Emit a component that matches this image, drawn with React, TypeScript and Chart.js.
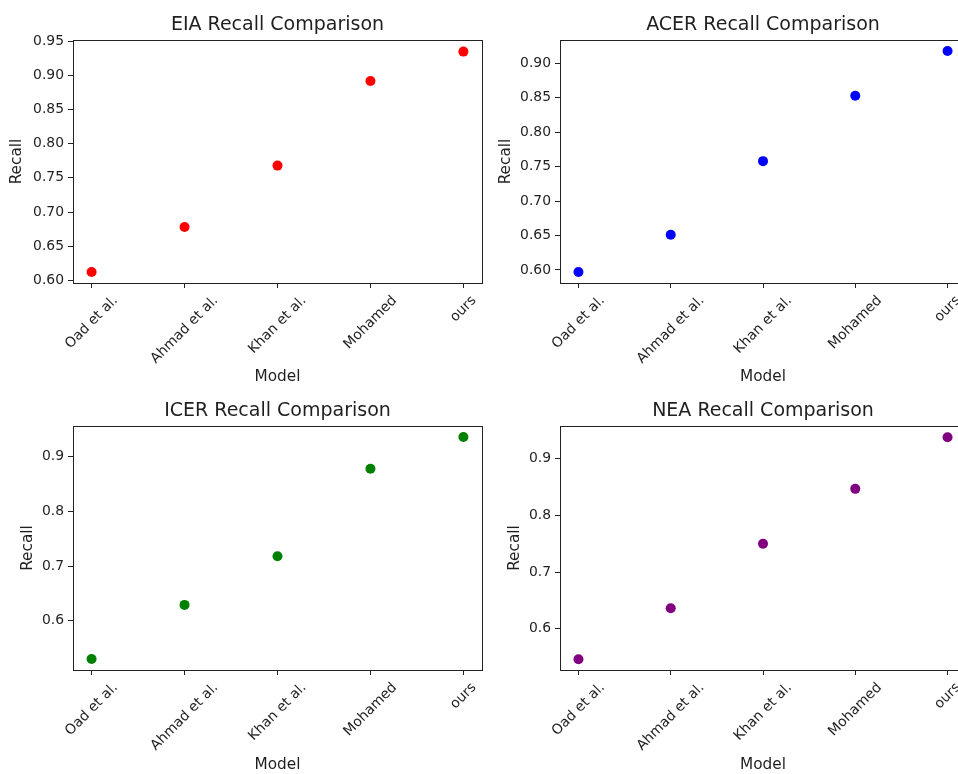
import React, { useEffect, useRef } from 'react';
import { Chart, registerables } from 'chart.js';

Chart.register(...registerables);

// ---------- data ----------
const categories = ['Oad et al.', 'Ahmad et al.', 'Khan et al.', 'Mohamed', 'ours'];

const eiaRecall = [0.612, 0.678, 0.768, 0.892, 0.935];
const acerRecall = [0.597, 0.651, 0.758, 0.853, 0.918];
const icerRecall = [0.530, 0.629, 0.718, 0.878, 0.936];
const neaRecall = [0.546, 0.636, 0.750, 0.847, 0.938];

const eiaTicks = [0.6, 0.65, 0.7, 0.75, 0.8, 0.85, 0.9, 0.95];
const acerTicks = [0.6, 0.65, 0.7, 0.75, 0.8, 0.85, 0.9];
const icerTicks = [0.6, 0.7, 0.8, 0.9];
const neaTicks = [0.6, 0.7, 0.8, 0.9];

const titles = ['EIA Recall Comparison', 'ACER Recall Comparison', 'ICER Recall Comparison', 'NEA Recall Comparison'];
const xAxisLabel = 'Model';
const yAxisLabel = 'Recall';

// ---------- styling ----------
const FONT = "'DejaVu Sans', sans-serif";
const TEXT = '#1f1f1f';
const SPINE = '#222';
const TICK_SIZE = 13.9;
const LABEL_SIZE = 15.3;
const TITLE_SIZE = 19;

type PanelProps = {
  title: string;
  values: number[];
  color: string;
  yMin: number;
  yMax: number;
  yTicks: number[];
  decimals: number;
  left: number;
  top: number;
  width: number;
  height: number;
  padRight: number;
  yWidth: number;
  xHeight: number;
  titlePadTop: number;
  titlePadBottom: number;
  yTitlePad: number;
  xTitlePad: number;
};

function alignPx(v: number) {
  return Math.round(v - 0.5) + 0.5;
}

function makeDecorPlugin(labels: string[]) {
  return {
    id: 'mplDecor',
    afterDatasetsDraw(chart: any) {
      const { ctx, chartArea } = chart;
      ctx.save();
      ctx.strokeStyle = SPINE;
      ctx.lineWidth = 1;
      const l = alignPx(chartArea.left);
      const r = alignPx(chartArea.right);
      const t = alignPx(chartArea.top);
      const b = alignPx(chartArea.bottom);
      ctx.strokeRect(l, t, r - l, b - t);
      ctx.restore();
    },
    afterDraw(chart: any) {
      const { ctx, chartArea } = chart;
      const scale = chart.scales.x;
      ctx.save();
      ctx.font = `${TICK_SIZE}px ${FONT}`;
      ctx.fillStyle = TEXT;
      ctx.textAlign = 'center';
      ctx.textBaseline = 'middle';
      const h = TICK_SIZE * 1.164;
      const top = chartArea.bottom + 9.7;
      labels.forEach((lab, i) => {
        const px = scale.getPixelForValue(i);
        const w = ctx.measureText(lab).width;
        const bh = (w + h) * Math.SQRT1_2;
        ctx.save();
        ctx.translate(px, top + bh / 2);
        ctx.rotate(-Math.PI / 4);
        ctx.fillText(lab, 0, 0);
        ctx.restore();
      });
      ctx.restore();
    },
  };
}

function Panel(p: PanelProps) {
  const ref = useRef<HTMLCanvasElement | null>(null);

  useEffect(() => {
    if (!ref.current) return;
    const chart = new Chart(ref.current, {
      type: 'scatter',
      data: {
        datasets: [
          {
            label: p.title,
            data: p.values.map((v, i) => ({ x: i, y: v })),
            backgroundColor: p.color,
            borderColor: p.color,
            pointRadius: 5,
            pointBorderWidth: 0,
            pointHoverRadius: 5,
          },
        ],
      },
      options: {
        responsive: false,
        animation: false,
        events: [],
        devicePixelRatio: 1,
        layout: { padding: { left: 0, right: p.padRight, top: 0, bottom: 0 } },
        plugins: {
          legend: { display: false },
          tooltip: { enabled: false },
          title: {
            display: true,
            text: p.title,
            fullSize: false,
            color: TEXT,
            font: { family: FONT, size: TITLE_SIZE, weight: 'normal', lineHeight: 1.2 },
            padding: { top: p.titlePadTop, bottom: p.titlePadBottom },
          },
        },
        scales: {
          x: {
            type: 'linear',
            min: -0.2,
            max: 4.2,
            afterBuildTicks: (scale: any) => {
              scale.ticks = categories.map((_, i) => ({ value: i }));
            },
            afterFit: (scale: any) => {
              scale.height = p.xHeight;
            },
            grid: {
              display: true,
              drawOnChartArea: false,
              drawTicks: true,
              tickLength: 5,
              color: SPINE,
              lineWidth: 1,
            },
            border: { display: false },
            ticks: { display: false },
            title: {
              display: true,
              text: xAxisLabel,
              color: TEXT,
              font: { family: FONT, size: LABEL_SIZE, lineHeight: 1.2 },
              padding: { top: 0, bottom: p.xTitlePad },
            },
          },
          y: {
            type: 'linear',
            min: p.yMin,
            max: p.yMax,
            afterBuildTicks: (scale: any) => {
              scale.ticks = p.yTicks.map((v) => ({ value: v }));
            },
            afterFit: (scale: any) => {
              scale.width = p.yWidth;
            },
            grid: {
              display: true,
              drawOnChartArea: false,
              drawTicks: true,
              tickLength: 5,
              color: SPINE,
              lineWidth: 1,
            },
            border: { display: false },
            ticks: {
              autoSkip: false,
              padding: 4,
              color: TEXT,
              font: { family: FONT, size: TICK_SIZE },
              callback: (v: any) => Number(v).toFixed(p.decimals),
            },
            title: {
              display: true,
              text: yAxisLabel,
              color: TEXT,
              font: { family: FONT, size: LABEL_SIZE, lineHeight: 1.2 },
              padding: { top: p.yTitlePad, bottom: 0 },
            },
          },
        },
      } as any,
      plugins: [makeDecorPlugin(categories)],
    });
    return () => chart.destroy();
  }, []);

  return (
    <canvas
      ref={ref}
      width={p.width}
      height={p.height}
      style={{ position: 'absolute', left: p.left, top: p.top, width: p.width, height: p.height }}
    />
  );
}

export default function App() {
  return (
    <div
      style={{
        position: 'fixed',
        left: 0,
        top: 0,
        width: 958,
        height: 774,
        overflow: 'hidden',
        background: '#ffffff',
      }}
    >
      <Panel
        title={titles[0]}
        values={eiaRecall}
        color="#ff0000"
        yMin={0.596}
        yMax={0.952}
        yTicks={eiaTicks}
        decimals={2}
        left={0}
        top={0}
        width={490}
        height={390}
        padRight={8}
        yWidth={73}
        xHeight={107}
        titlePadTop={13.6}
        titlePadBottom={3.6}
        yTitlePad={7.4}
        xTitlePad={3.8}
      />
      <Panel
        title={titles[1]}
        values={acerRecall}
        color="#0000ff"
        yMin={0.581}
        yMax={0.934}
        yTicks={acerTicks}
        decimals={2}
        left={490}
        top={0}
        width={490}
        height={390}
        padRight={14}
        yWidth={70}
        xHeight={107}
        titlePadTop={13.6}
        titlePadBottom={3.6}
        yTitlePad={7.2}
        xTitlePad={3.8}
      />
      <Panel
        title={titles[2]}
        values={icerRecall}
        color="#008000"
        yMin={0.510}
        yMax={0.956}
        yTicks={icerTicks}
        decimals={1}
        left={0}
        top={390}
        width={490}
        height={384}
        padRight={8}
        yWidth={73}
        xHeight={104}
        titlePadTop={10.1}
        titlePadBottom={3.1}
        yTitlePad={18.8}
        xTitlePad={0}
      />
      <Panel
        title={titles[3]}
        values={neaRecall}
        color="#800080"
        yMin={0.527}
        yMax={0.958}
        yTicks={neaTicks}
        decimals={1}
        left={490}
        top={390}
        width={490}
        height={384}
        padRight={14}
        yWidth={70}
        xHeight={104}
        titlePadTop={10.1}
        titlePadBottom={3.1}
        yTitlePad={15.5}
        xTitlePad={0}
      />
    </div>
  );
}
